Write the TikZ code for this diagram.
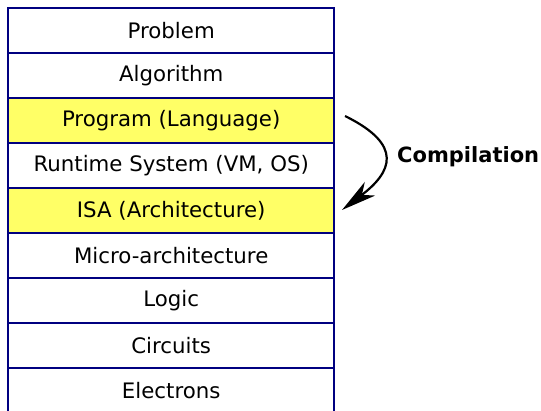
\documentclass[tikz,border=0pt]{standalone}
\usepackage{fontspec}
\setmainfont{DejaVu Sans}
\usetikzlibrary{arrows.meta}
\definecolor{navy}{RGB}{0,0,128}
\definecolor{hl}{RGB}{255,255,102}
\begin{document}
\begin{tikzpicture}[x=1pt,y=-1pt,
  layer/.style={draw=navy,line width=2.4pt,minimum width=326pt,minimum height=45pt,inner sep=0pt,anchor=north west,font=\fontsize{21.3}{24}\selectfont},
  hlayer/.style={layer,fill=hl}]
\useasboundingbox (0,0) rectangle (541,410);
\node[layer]  (l1) at (7,7)   {Problem};
\node[layer]  (l2) at (7,52)  {Algorithm};
\node[hlayer] (l3) at (7,97)  {Program (Language)};
\node[layer]  (l4) at (7,142) {Runtime System (VM, OS)};
\node[hlayer] (l5) at (7,187) {ISA (Architecture)};
\node[layer]  (l6) at (7,232) {Micro-architecture};
\node[layer]  (l7) at (7,277) {Logic};
\node[layer]  (l8) at (7,322) {Circuits};
\node[layer]  (l9) at (7,367) {Electrons};
\coordinate (a) at (345,116);
\coordinate (b) at (342,210);
\draw[line width=2.2pt,-{Stealth[length=35pt,width=17pt,inset=10pt]}] (a) .. controls (404,145) and (392,172) .. (b);
\node[font=\bfseries\fontsize{21}{24}\selectfont,anchor=west,inner sep=0pt] (lbl) at (397,157) {Compilation};
\end{tikzpicture}
\end{document}
